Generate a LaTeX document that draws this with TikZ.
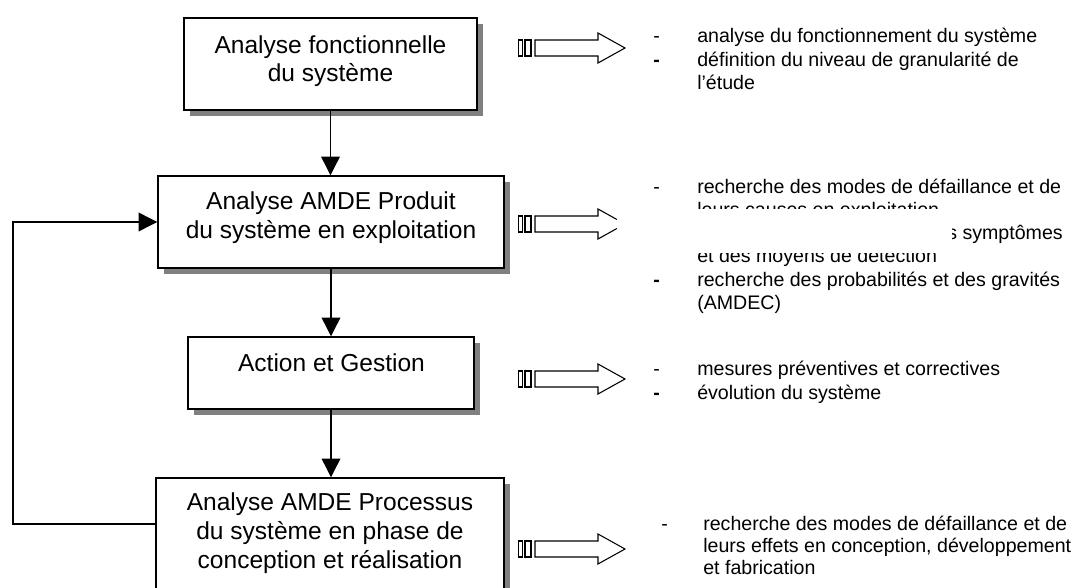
\documentclass[tikz,border=0pt]{standalone}
\usepackage{fontspec}
\setmainfont{Liberation Sans}
\usepackage{tikz}
\usetikzlibrary{arrows.meta}
\usetikzlibrary{shadows}

\newcommand{\boxfont}{\fontsize{18.4}{21.4}\selectfont}
\newcommand{\notefont}{\fontsize{14.7}{17.25}\selectfont}
\newcommand{\fatarrow}[1]{%
  \draw [fat] (518.3,#1-8) rectangle (522.7,#1+8);
  \draw [fat] (525,#1-8) rectangle (531,#1+8);
  \draw [fat] (535,#1-8) -- (598,#1-8) -- (598,#1-15) -- (625,#1)
    -- (598,#1+15) -- (598,#1+8) -- (535,#1+8) -- cycle;
}

\begin{document}
\begin{tikzpicture}[
  x=0.75pt, y=-0.75pt,
  stage/.style={draw, line width=1.1pt, fill=white, inner sep=0pt,
    drop shadow={shadow xshift=4.2pt, shadow yshift=-4.2pt,
      fill=black!50, opacity=1}},
  stagetxt/.style={anchor=base, align=center, font=\boxfont, inner sep=0pt},
  flow/.style={line width=1pt, -{Triangle[length=14pt,width=14pt]}},
  fat/.style={line width=0.8pt, fill=white},
  note/.style={anchor=base west, align=left, font=\notefont, inner sep=0pt},
]

\clip (0,0) rectangle (1077,588);
\fill [white] (0,0) rectangle (1077,588);

\node [stage, minimum width=219.75pt, minimum height=69pt] (fonct) at (330.5,64) {};
\node [stage, minimum width=259.5pt, minimum height=69pt] (produit) at (331,222) {};
\node [stage, minimum width=214.5pt, minimum height=54pt] (gestion) at (331,373) {};
\node [stage, minimum width=261pt, minimum height=91.5pt] (process) at (330,539) {};

% multi-line nodes: base = baseline of the last line
\node [stagetxt] (fonct-t) at (330.5,81.7) {Analyse fonctionnelle\\du système};
\node [stagetxt] (produit-t) at (331,238.3) {Analyse AMDE Produit\\du système en exploitation};
\node [stagetxt] (gestion-t) at (331.5,371.7) {Action et Gestion};
\node [stagetxt] (process-t) at (330,568) {Analyse AMDE Processus\\du système en phase de\\conception et réalisation};

\draw [flow] (fonct.south) -- (fonct.south |- produit.north);
\draw [flow] (produit.south) -- (produit.south |- gestion.north);
\draw [flow] (gestion.south) -- (gestion.south |- process.north);
\coordinate (loop) at (13,524);
\draw [flow] (process.west |- loop) -- (loop) |- (produit.west);

\fatarrow{48}
\fatarrow{224}
\fatarrow{379}
\fatarrow{549}

\node [note] (d1a) at (653,43) {-};
\node [note] (t1a) at (697,43) {analyse du fonctionnement du système};
\node [note, font=\notefont\bfseries] (d1b) at (653,66.5) {-};
\node [note] (t1b) at (697,89.5) {définition du niveau de granularité de\\l’étude};

\node [note] (d2a) at (653,193) {-};
\node [note] (t2a) at (697,216) {recherche des modes de défaillance et de\\leurs causes en exploitation};
\node [note, anchor=base east] (t2b) at (1063,239) {des symptômes};
\node [note] (t2c) at (697,262) {et des moyens de détection};
\node [note, font=\notefont\bfseries] (d2d) at (653,286) {-};
\node [note] (t2d) at (697,309) {recherche des probabilités et des gravités\\(AMDEC)};
\fill [white] (617,208.5) rectangle (952,253);

\node [note] (d3a) at (653,375) {-};
\node [note] (t3a) at (697,375) {mesures préventives et correctives};
\node [note, font=\notefont\bfseries] (d3b) at (653,399) {-};
\node [note] (t3b) at (697,399) {évolution du système};

\node [note] (d4a) at (661,530) {-};
\node [note, font=\fontsize{14.7}{16.5}\selectfont] (t4a) at (703,574)
  {recherche des modes de défaillance et de\\leurs effets en conception, développement\\et fabrication};

\end{tikzpicture}
\end{document}
